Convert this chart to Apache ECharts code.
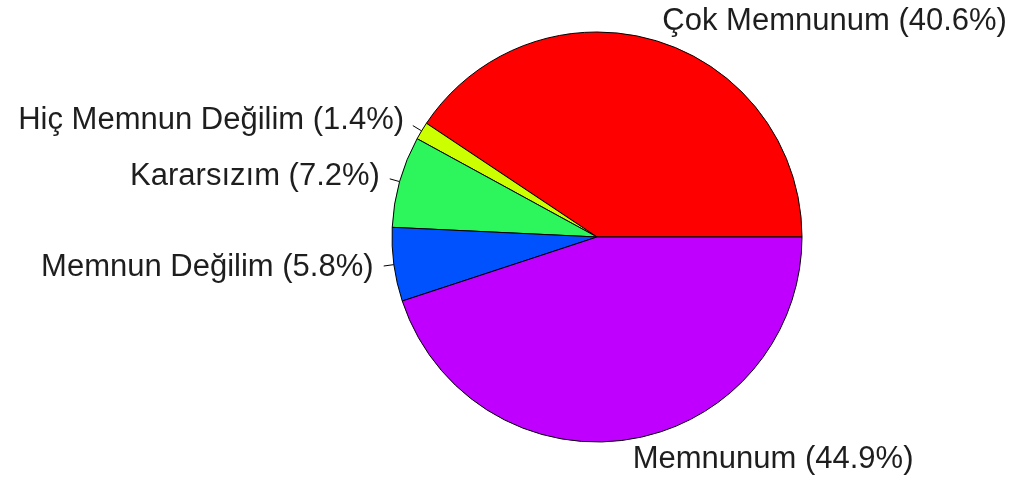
<!DOCTYPE html>
<html>
<head>
<meta charset="utf-8">
<script src="https://cdn.jsdelivr.net/npm/echarts@6/dist/echarts.min.js"></script>
<style>
  html, body { margin: 0; padding: 0; background: #fff; }
  #main { width: 1015px; height: 485px; }
</style>
</head>
<body>
<div id="main"></div>
<script>
// kategoriler ve yüzdeler (saat 3 yönünden başlayıp saat yönünün tersine)
var categories = ['Çok Memnunum', 'Hiç Memnun Değilim', 'Kararsızım', 'Memnun Değilim', 'Memnunum'];
var percents = [40.6, 1.4, 7.2, 5.8, 44.9];
var colors = ['#FF0000', '#CCFF00', '#2CF65C', '#0052FF', '#BF00FF'];

var R = 205;
var myChart = echarts.init(document.getElementById('main'));

var pieData = categories.map(function(name, i) {
    return { name: name, value: percents[i], itemStyle: { color: colors[i] } };
});

var common = {
    type: 'pie',
    center: [597, 237],
    radius: [0, R],
    startAngle: 0,
    clockwise: false,
    avoidLabelOverlap: false,
    animation: false,
    silent: true,
    emphasis: { disabled: true }
};

var option = {
    backgroundColor: '#fff',
    series: [
        // dilimler + etiketler (etiket 1.1r'de)
        Object.assign({}, common, {
            z: 2,
            itemStyle: { borderColor: '#000', borderWidth: 1 },
            label: {
                show: true,
                position: 'outside',
                distanceToLabelLine: 0,
                fontFamily: 'Liberation Sans, Arial, sans-serif',
                fontSize: 31,
                color: '#1e1e1e',
                formatter: function(p) {
                    return p.name + ' (' + p.value.toFixed(1) + '%)';
                }
            },
            labelLine: { show: false, length: R * 0.1, length2: 0 },
            data: pieData
        }),
        // kısa etiket çizgileri (r -> 1.05r)
        Object.assign({}, common, {
            z: 1,
            itemStyle: { color: 'transparent', borderWidth: 0 },
            label: {
                show: true,
                position: 'outside',
                color: 'transparent',
                fontSize: 12,
                formatter: ' '
            },
            labelLine: {
                show: true,
                length: R * 0.05,
                length2: 0,
                lineStyle: { color: '#000', width: 1 }
            },
            data: categories.map(function(name, i) {
                return { name: name, value: percents[i] };
            })
        })
    ]
};

myChart.setOption(option);
</script>
</body>
</html>
